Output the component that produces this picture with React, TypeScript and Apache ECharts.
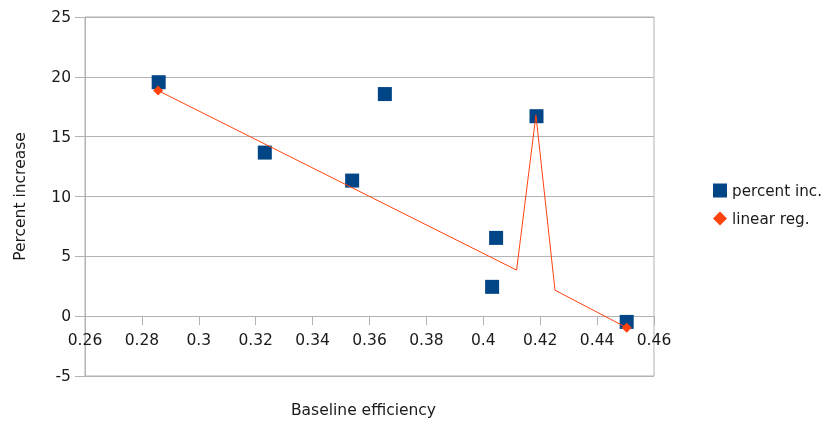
import React, { useEffect, useRef } from "react";
import * as echarts from "echarts";

const seriesNames = ["percent inc.", "linear reg."];
const efficiency = [0.2859, 0.3232, 0.3539, 0.3654, 0.4045, 0.4031, 0.4187, 0.4504];
const percentInc = [19.55, 13.67, 11.33, 18.56, 6.54, 2.45, 16.71, -0.48];
const regX = [0.2857, 0.4117, 0.4185, 0.4252, 0.4504];
const regY = [18.85, 3.85, 16.8, 2.17, -0.96];
const regMarked = [true, false, false, false, true];
const xTicks = { min: 0.26, max: 0.46, interval: 0.02 };
const yTicks = { min: -5, max: 25, interval: 5 };

const FONT = "DejaVu Sans";
const FS = 15.5;
const TEXT = "#1a1a1a";
const GRIDC = "#b3b3b3";
const GRID = { left: 85, right: 171, top: 17, bottom: 46 };
const PLOT_H = 422 - GRID.top - GRID.bottom;

export default function App() {
  const ref = useRef<HTMLDivElement>(null);
  useEffect(() => {
    if (!ref.current) return;
    const chart = echarts.init(ref.current, undefined, { renderer: "svg" });
    // pixel distance from the -5 line (grid bottom) up to the 0 line
    const zeroOffset = (PLOT_H * (0 - yTicks.min)) / (yTicks.max - yTicks.min);
    chart.setOption({
      animation: false,
      textStyle: { fontFamily: FONT },
      grid: {
        ...GRID,
        show: true,
        borderColor: GRIDC,
        borderWidth: 1,
        containLabel: false,
        outerBoundsMode: "none",
      },
      legend: {
        orient: "vertical",
        left: 713,
        top: 183,
        padding: 0,
        itemWidth: 14,
        itemHeight: 14,
        itemGap: 13,
        textStyle: { fontFamily: FONT, fontSize: 15.2, color: TEXT },
        data: [
          { name: seriesNames[0], icon: "rect" },
          { name: seriesNames[1], icon: "diamond" },
        ],
      },
      xAxis: {
        type: "value",
        min: xTicks.min,
        max: xTicks.max,
        interval: xTicks.interval,
        offset: -zeroOffset,
        name: "Baseline efficiency",
        nameLocation: "middle",
        nameGap: 86,
        nameTextStyle: { fontFamily: FONT, fontSize: FS, color: TEXT, padding: [0, 12, 0, 0] },
        axisLine: { show: true, onZero: false, lineStyle: { color: GRIDC, width: 1 } },
        axisTick: { show: true, inside: false, length: 9, lineStyle: { color: GRIDC } },
        axisLabel: { fontFamily: FONT, fontSize: FS, color: TEXT, margin: 16 },
        splitLine: { show: false },
      },
      yAxis: {
        type: "value",
        min: yTicks.min,
        max: yTicks.max,
        interval: yTicks.interval,
        name: "Percent increase",
        nameLocation: "middle",
        nameRotate: 90,
        nameGap: 57,
        nameTextStyle: { fontFamily: FONT, fontSize: FS, color: TEXT },
        axisLine: { show: true, lineStyle: { color: GRIDC, width: 1 } },
        axisTick: { show: true, inside: false, length: 10, lineStyle: { color: GRIDC } },
        axisLabel: { fontFamily: FONT, fontSize: FS, color: TEXT, margin: 14 },
        splitLine: { show: true, lineStyle: { color: GRIDC, width: 1 } },
      },
      series: [
        {
          name: seriesNames[0],
          type: "scatter",
          symbol: "rect",
          symbolSize: 14,
          itemStyle: { color: "#004586", opacity: 1 },
          data: efficiency.map((x, i) => [x, percentInc[i]]),
          z: 2,
        },
        {
          name: seriesNames[1],
          type: "line",
          symbol: "diamond",
          symbolSize: 10,
          showSymbol: true,
          itemStyle: { color: "#ff420e", opacity: 1 },
          lineStyle: { color: "#ff420e", width: 1 },
          data: regX.map((x, i) => ({
            value: [x, regY[i]],
            symbolSize: regMarked[i] ? 10 : 0,
          })),
          z: 3,
        },
      ],
    });
    return () => chart.dispose();
  }, []);
  return (
    <div
      ref={ref}
      style={{ position: "fixed", left: 0, top: 0, width: 825, height: 422 }}
    />
  );
}
